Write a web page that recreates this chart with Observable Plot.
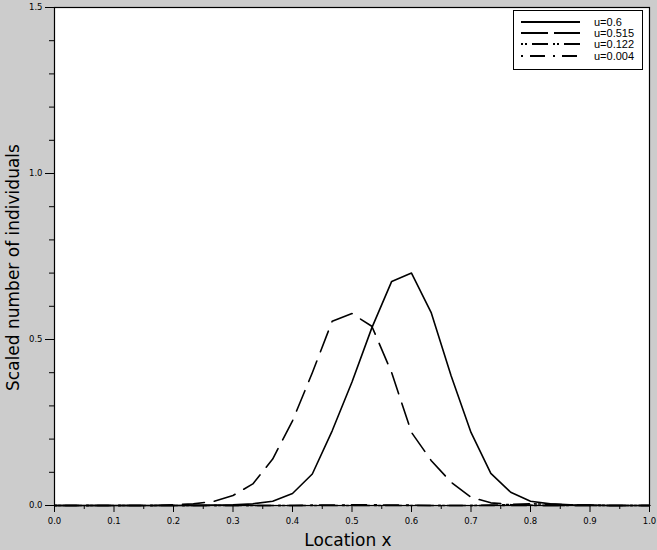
<!DOCTYPE html>
<html>
<head>
<meta charset="utf-8">
<script src="https://cdn.jsdelivr.net/npm/d3@7"></script>
<script src="https://cdn.jsdelivr.net/npm/@observablehq/plot@0.6"></script>
<style>
  html, body { margin: 0; padding: 0; background: #cccccc; }
  #wrap { position: relative; width: 657px; height: 550px; }
  #legend { position: absolute; left: 513px; top: 10px; }
</style>
</head>
<body>
<div id="wrap"></div>
<script>
// Grid locations x (31 points)
const locations = [0, 0.0333, 0.0667, 0.1, 0.1333, 0.1667, 0.2, 0.2333, 0.2667, 0.3,
  0.3333, 0.3667, 0.4, 0.4333, 0.4667, 0.5, 0.5333, 0.5667, 0.6, 0.6333,
  0.6667, 0.7, 0.7333, 0.7667, 0.8, 0.8333, 0.8667, 0.9, 0.9333, 0.9667, 1];

// Series values (scaled number of individuals)
const u060 = [0, 0, 0, 0, 0, 0, 0.0002, 0.0005, 0.001, 0.002,
  0.005, 0.013, 0.036, 0.095, 0.225, 0.372, 0.535, 0.675, 0.70, 0.58,
  0.39, 0.22, 0.097, 0.04, 0.013, 0.005, 0.002, 0.001, 0, 0, 0];
const u0515 = [0, 0, 0, 0, 0, 0, 0.002, 0.005, 0.012, 0.03,
  0.065, 0.14, 0.255, 0.40, 0.555, 0.578, 0.54, 0.40, 0.22, 0.135,
  0.07, 0.025, 0.008, 0.003, 0.001, 0, 0, 0, 0, 0, 0];
const u0122 = [0, 0, 0, 0, 0, 0, 0, 0, 0, 0,
  0, 0, 0, 0, 0, 0, 0, 0, 0, 0,
  0, 0, 0.001, 0.003, 0.005, 0.004, 0.002, 0.001, 0, 0, 0];
const u0004 = [0, 0, 0, 0, 0, 0, 0, 0, 0, 0,
  0, 0, 0, 0.001, 0.001, 0.002, 0.002, 0.001, 0.001, 0,
  0, 0, 0, 0, 0, 0, 0, 0, 0, 0, 0];

const seriesLabels = ["u=0.6", "u=0.515", "u=0.122", "u=0.004"];
const seriesValues = [u060, u0515, u0122, u0004];
const dashes = [null, "22,10", "2,2,2,5,16,5", "2,7,15,8"];

const xMajor = [0, 0.1, 0.2, 0.3, 0.4, 0.5, 0.6, 0.7, 0.8, 0.9, 1.0];
const xMinor = [0.05, 0.15, 0.25, 0.35, 0.45, 0.55, 0.65, 0.75, 0.85, 0.95];
const yMajor = [0, 0.5, 1.0, 1.5];
const yMinor = [0.1, 0.2, 0.3, 0.4, 0.6, 0.7, 0.8, 0.9, 1.1, 1.2, 1.3, 1.4];

const xLabel = "Location x";
const yLabel = "Scaled number of individuals";

const rows = seriesValues.map(vals => locations.map((x, i) => ({x, y: vals[i]})));

const lineMarks = rows.map((data, k) => Plot.line(data, {
  x: "x", y: "y", stroke: "black", strokeWidth: 1.6,
  strokeDasharray: dashes[k] ?? undefined, curve: "linear"
}));

const chart = Plot.plot({
  width: 657,
  height: 550,
  marginLeft: 54,
  marginRight: 8,
  marginTop: 7,
  marginBottom: 45,
  style: {background: "#cccccc", fontFamily: "DejaVu Sans", color: "black"},
  x: {domain: [0, 1], label: null},
  y: {domain: [0, 1.5], label: null},
  marks: [
    Plot.frame({fill: "white", stroke: "none"}),
    ...lineMarks,
    Plot.frame({stroke: "black", strokeWidth: 1.2}),
    Plot.axisX(xMajor, {tickSize: 7, tickPadding: 5, tickFormat: d3.format(".1f"), fontSize: 8.5, label: null}),
    Plot.axisX(xMinor, {tickSize: 4, tickFormat: () => "", label: null}),
    Plot.axisY(yMajor, {tickSize: 9, tickPadding: 3, tickFormat: d3.format(".1f"), fontSize: 8.5, label: null}),
    Plot.axisY(yMinor, {tickSize: 5, tickFormat: () => "", label: null}),
    Plot.text([xLabel], {frameAnchor: "bottom", text: d => d, dy: 35, dx: -4, fontSize: 17, textAnchor: "middle", lineAnchor: "middle"}),
    Plot.text([yLabel], {frameAnchor: "left", text: d => d, rotate: -90, dx: -41, dy: 11, fontSize: 17, textAnchor: "middle", lineAnchor: "middle"})
  ]
});

const wrap = document.getElementById("wrap");
wrap.appendChild(chart);

// Legend box (top right)
const ns = "http://www.w3.org/2000/svg";
const leg = document.createElementNS(ns, "svg");
leg.setAttribute("id", "legend");
leg.setAttribute("width", 130);
leg.setAttribute("height", 60);
const box = document.createElementNS(ns, "rect");
box.setAttribute("x", 0.5); box.setAttribute("y", 0.5);
box.setAttribute("width", 129); box.setAttribute("height", 59);
box.setAttribute("fill", "white"); box.setAttribute("stroke", "black");
leg.appendChild(box);
const rowY = [12, 23, 34, 46];
seriesLabels.forEach((lab, k) => {
  const ln = document.createElementNS(ns, "line");
  ln.setAttribute("x1", 8); ln.setAttribute("x2", 67);
  ln.setAttribute("y1", rowY[k]); ln.setAttribute("y2", rowY[k]);
  ln.setAttribute("stroke", "black"); ln.setAttribute("stroke-width", 2);
  if (dashes[k]) ln.setAttribute("stroke-dasharray", k === 1 ? "27,6" : dashes[k]);
  leg.appendChild(ln);
  const t = document.createElementNS(ns, "text");
  t.setAttribute("x", 81); t.setAttribute("y", rowY[k] + 4);
  t.setAttribute("font-family", "Liberation Sans");
  t.setAttribute("font-size", 11);
  t.textContent = lab;
  leg.appendChild(t);
});
wrap.appendChild(leg);
</script>
</body>
</html>
